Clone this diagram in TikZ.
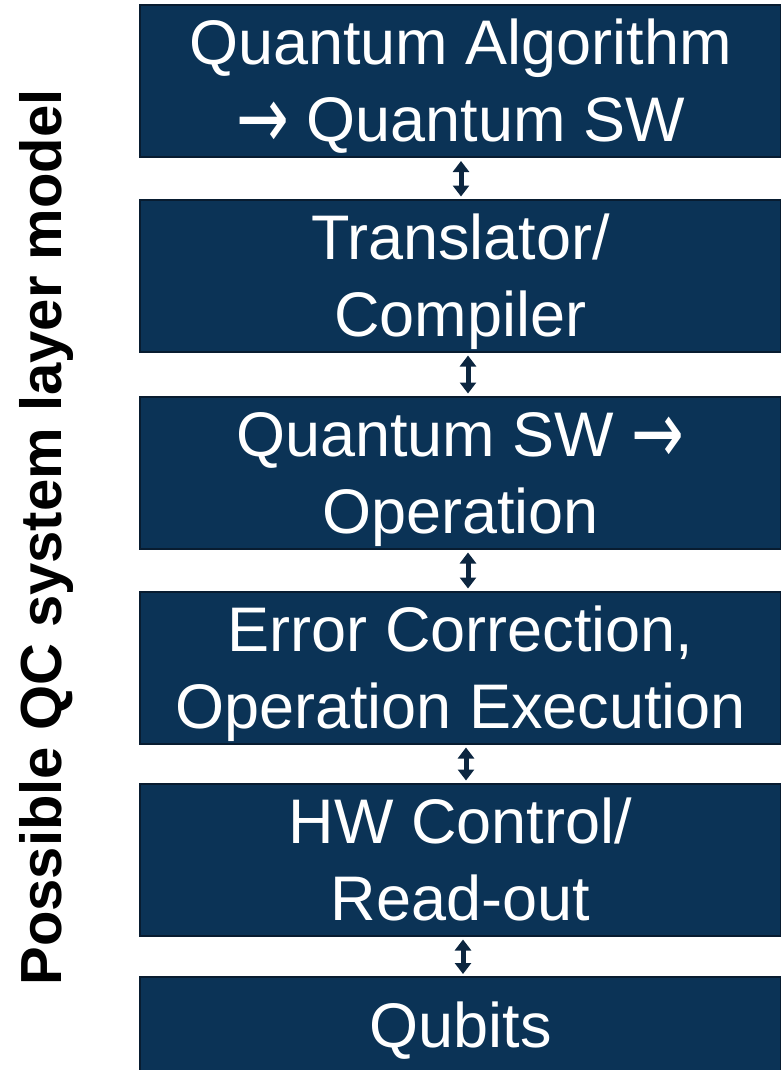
\documentclass[tikz,border=0pt]{standalone}
\usepackage{fontspec}
\setmainfont{Liberation Sans}
\newfontfamily\arrowfont{DejaVu Sans}
\usetikzlibrary{arrows.meta}
\definecolor{boxfill}{RGB}{11,51,86}
\definecolor{boxline}{RGB}{8,28,48}
\definecolor{arrcol}{RGB}{12,38,64}
\newcommand{\bigarrow}{\raisebox{-7pt}{\scalebox{1}[1.4]{\arrowfont →}}}
\begin{document}
\begin{tikzpicture}[x=1pt,y=-1pt,
  layer/.style={draw=boxline, line width=2pt, fill=boxfill, text=white,
    minimum width=641pt, minimum height=152pt, inner sep=0pt, outer sep=0pt,
    align=center, font=\fontsize{63}{77}\selectfont,
    text height=122pt, text depth=0pt},
  link/.style={draw=arrcol, line width=5pt,
    {Triangle[width=16pt,length=11pt]}-{Triangle[width=16pt,length=11pt]},
    shorten <=4pt, shorten >=3pt}]
\useasboundingbox (0,0) rectangle (780,1070);
\node[rotate=90, anchor=base, font=\fontsize{58}{58}\selectfont\bfseries]
  (title) at (61,537.5) {Possible QC system layer model};
\node[layer] (b1) at (460.5,81) {Quantum Algorithm\\\bigarrow{} Quantum SW};
\node[layer] (b2) at (460.5,275.5) {Translator/\\Compiler};
\node[layer] (b3) at (460.5,472.5) {Quantum SW \bigarrow\\Operation};
\node[layer] (b4) at (460.5,667.5) {Error Correction,\\Operation Execution};
\node[layer] (b5) at (460.5,859.5) {HW Control/\\Read-out};
\node[layer, minimum height=96pt, text height=45pt] (b6) at (460.5,1025) {Qubits};
\draw[link] ([xshift=0.5pt]b1.south) -- ([xshift=0.5pt]b2.north);
\draw[link] ([xshift=7.5pt]b2.south) -- ([xshift=7.5pt]b3.north);
\draw[link] ([xshift=7.5pt]b3.south) -- ([xshift=7.5pt]b4.north);
\draw[link] ([xshift=5.5pt]b4.south) -- ([xshift=5.5pt]b5.north);
\draw[link] ([xshift=2.5pt]b5.south) -- ([xshift=2.5pt]b6.north);
\end{tikzpicture}
\end{document}
